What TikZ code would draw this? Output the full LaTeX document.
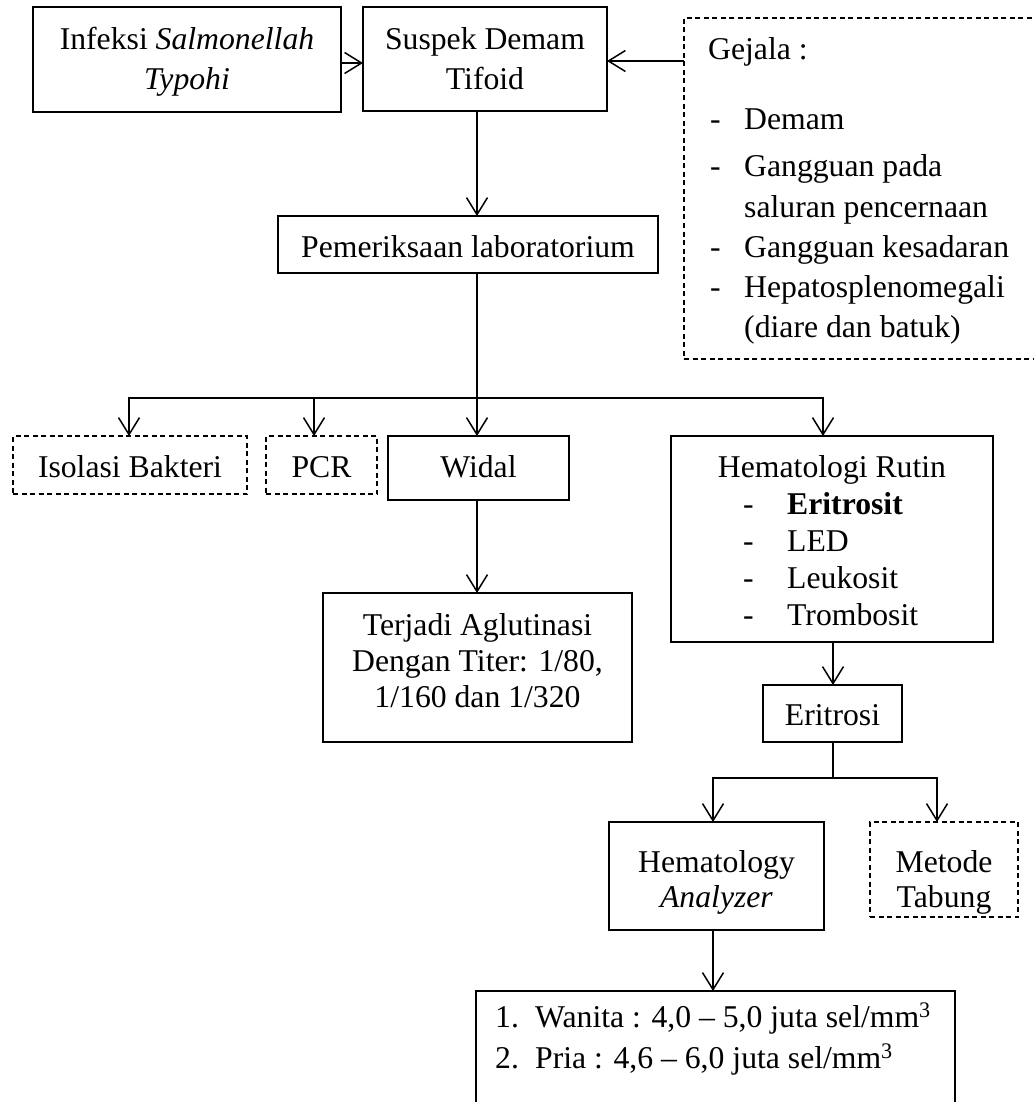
\documentclass[tikz,border=0pt]{standalone}
\usepackage{fontspec}
\setmainfont{Liberation Serif}
\usetikzlibrary{arrows.meta,calc}
\newcommand{\myfs}{\fontsize{31.7pt}{37pt}\selectfont}
\begin{document}
\begin{tikzpicture}[x=1pt,y=-1pt,
  every node/.style={font=\myfs},
  box/.style={draw, line width=1.5pt, inner sep=0pt, outer sep=0pt, anchor=north west},
  dbox/.style={box, line width=1.2pt, dash pattern=on 5pt off 3.5pt},
  txt/.style={draw=none, inner sep=0pt, anchor=base},
  ltxt/.style={draw=none, inner sep=0pt, anchor=base west},
  line/.style={line width=1.5pt},
  arr/.style={line width=1.5pt, -{Straight Barb[length=17pt,width=21pt]}}]
\useasboundingbox (0,0) rectangle (1033,1102);

% boxes
\node[box, minimum width=308pt, minimum height=105pt] (inf) at (33,7) {};
\node[box, minimum width=244pt, minimum height=104pt] (sus) at (363,7) {};
\node[dbox, minimum width=356pt, minimum height=341pt] (gej) at (684,18) {};
\node[box, minimum width=380pt, minimum height=57pt] (pem) at (278,216) {};
\node[dbox, minimum width=234pt, minimum height=58pt] (iso) at (13,436) {};
\node[dbox, minimum width=111pt, minimum height=58pt] (pcr) at (266,436) {};
\node[box, minimum width=181pt, minimum height=64pt] (wid) at (388,436) {};
\node[box, minimum width=322pt, minimum height=206pt] (hem) at (671,436) {};
\node[box, minimum width=309pt, minimum height=149pt] (ter) at (323,593) {};
\node[box, minimum width=139pt, minimum height=57pt] (eri) at (763,685) {};
\node[box, minimum width=215pt, minimum height=108pt] (hma) at (609,822) {};
\node[dbox, minimum width=148pt, minimum height=95pt] (met) at (870,822) {};
\node[box, minimum width=479pt, minimum height=130pt] (fin) at (476,991) {};

% texts
\node[txt] (inf1) at (187,50) {Infeksi \textit{Salmonellah}};
\node[txt] (inf2) at (187,90) {\textit{Typohi}};
\node[txt] (sus1) at (485,50) {Suspek Demam};
\node[txt] (sus2) at (485,90) {Tifoid};

\node[ltxt] (gej0) at (708,60) {Gejala :};
\node[ltxt] (gd1) at (710,130) {-};
\node[ltxt] (gi1) at (744,130) {Demam};
\node[ltxt] (gd2) at (710,177) {-};
\node[ltxt] (gi2) at (744,177) {Gangguan pada};
\node[ltxt] (gi2b) at (744,217) {saluran pencernaan};
\node[ltxt] (gd3) at (710,257) {-};
\node[ltxt] (gi3) at (744,257) {Gangguan kesadaran};
\node[ltxt] (gd4) at (710,297) {-};
\node[ltxt] (gi4) at (744,297) {Hepatosplenomegali};
\node[ltxt] (gi4b) at (744,337) {(diare dan batuk)};

\node[txt] (pemt) at (468,257) {Pemeriksaan laboratorium};
\node[txt] (isot) at (130,477) {Isolasi Bakteri};
\node[txt] (pcrt) at (321.5,477) {PCR};
\node[txt] (widt) at (478.5,477) {Widal};

\node[txt] (hem0) at (832,477) {Hematologi Rutin};
\node[ltxt] (hd1) at (743,514) {-};
\node[ltxt] (hi1) at (787,514) {\textbf{Eritrosit}};
\node[ltxt] (hd2) at (743,551) {-};
\node[ltxt] (hi2) at (787,551) {LED};
\node[ltxt] (hd3) at (743,588) {-};
\node[ltxt] (hi3) at (787,588) {Leukosit};
\node[ltxt] (hd4) at (743,625) {-};
\node[ltxt] (hi4) at (787,625) {Trombosit};

\node[txt] (ter1) at (477.5,635) {Terjadi Aglutinasi};
\node[txt] (ter2) at (477.5,671) {Dengan Titer: 1/80,};
\node[txt] (ter3) at (477.5,707) {1/160 dan 1/320};

\node[txt] (erit) at (832.5,725) {Eritrosi};
\node[txt] (hma1) at (716.5,872) {Hematology};
\node[txt] (hma2) at (716.5,907) {\textit{Analyzer}};
\node[txt] (met1) at (944,872) {Metode};
\node[txt] (met2) at (944,907) {Tabung};

\node[ltxt] (fn1) at (495,1027) {1.};
\node[ltxt] (fi1) at (535,1027) {Wanita : 4,0 – 5,0 juta sel/mm\textsuperscript{3}};
\node[ltxt] (fn2) at (495,1068) {2.};
\node[ltxt] (fi2) at (535,1068) {Pria : 4,6 – 6,0 juta sel/mm\textsuperscript{3}};

% connectors
\draw[arr] ([yshift=-3.5pt]inf.east) -- ([yshift=-3.5pt]inf.east -| sus.west);
\draw[arr] ([yshift=-2pt]sus.east -| gej.west) -- ([yshift=-2pt]sus.east);
\coordinate (vx) at (477,0);
\draw[arr] (sus.south -| vx) -- (pem.north -| vx);
\coordinate (br) at (477,398);
\coordinate (bL) at (129,398);
\coordinate (bP) at (314,398);
\coordinate (bR) at (823,398);
\draw[line] (pem.south -| br) -- (br);
\draw[arr] (br) -| (bL |- iso.north);
\draw[arr] (br) -| (bR |- hem.north);
\draw[arr] (bP) -- (bP |- pcr.north);
\draw[arr] (br) -- (br |- wid.north);
\draw[arr] (wid.south -| vx) -- (ter.north -| vx);
\coordinate (ex) at (833,0);
\draw[arr] (hem.south -| ex) -- (eri.north -| ex);
\coordinate (eb) at (833,778);
\coordinate (eL) at (713,0);
\coordinate (eR) at (937,0);
\draw[line] (eri.south -| eb) -- (eb);
\draw[arr] (eb) -| (eL |- hma.north);
\draw[arr] (eb) -| (eR |- met.north);
\draw[arr] (hma.south -| eL) -- (fin.north -| eL);
\end{tikzpicture}
\end{document}
